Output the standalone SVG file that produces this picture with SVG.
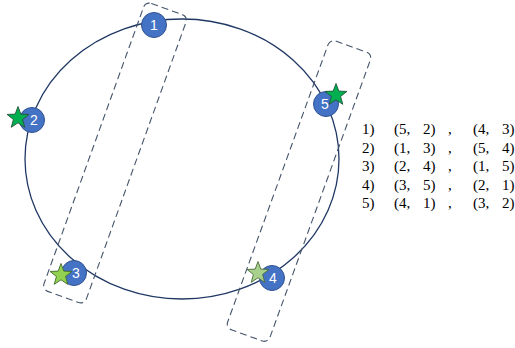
<svg xmlns="http://www.w3.org/2000/svg" xmlns:xlink="http://www.w3.org/1999/xlink" width="515" height="348" viewBox="0 0 515 348">
<style>
.ring{fill:none;stroke:#203864;stroke-width:1.3}
.pair{fill:none;stroke:#44546A;stroke-width:1.1;stroke-dasharray:7 4}
.node circle{fill:#4472C4;stroke:#2F528F;stroke-width:1}
.node text{fill:#fff;font-family:"Liberation Sans","Open Sans",sans-serif;font-size:14px;text-anchor:middle}
.star-dark{fill:#00B050;stroke:#26543A;stroke-width:0.9}
.star-light{fill:#92D050;stroke:#3F6A2A;stroke-width:0.9}
.star-pale{fill:#A9D18E;stroke:#4A6B3A;stroke-width:0.9}
.list{font-family:"Liberation Serif","Times New Roman",serif;font-size:15px;fill:#000}
</style>
<defs>
<path id="star" d="M0,-11.5 L2.82,-3.88 L10.94,-3.55 L4.57,1.48 L6.76,9.3 L0,4.8 L-6.76,9.3 L-4.57,1.48 L-10.94,-3.55 L-2.82,-3.88 Z"/>
</defs>
<g id="connectors">
<ellipse class="ring" cx="182" cy="159" rx="157" ry="140"/>
<rect id="pair-1-3" class="pair" x="-22.5" y="-153" width="45" height="306" rx="6" transform="translate(115,153) rotate(19.8)"/>
<rect id="pair-5-4" class="pair" x="-22.5" y="-153.5" width="45" height="307" rx="6" transform="translate(299,191) rotate(19.9)"/>
</g>
<g id="node1" class="node"><circle cx="154" cy="25" r="12.5"/><text x="154" y="30">1</text></g>
<g id="node2" class="node"><circle cx="32" cy="120" r="12.5"/><text x="34" y="125">2</text><use xlink:href="#star" class="star-dark" x="18" y="118"/></g>
<g id="node3" class="node"><circle cx="74" cy="273" r="12.5"/><text x="76" y="278">3</text><use xlink:href="#star" class="star-light" x="61" y="275"/></g>
<g id="node4" class="node"><circle cx="272" cy="278" r="12.5"/><text x="273" y="283">4</text><use xlink:href="#star" class="star-pale" x="258" y="273"/></g>
<g id="node5" class="node"><circle cx="326" cy="104" r="12.5"/><text x="325" y="109">5</text><use xlink:href="#star" class="star-dark" x="336" y="95"/></g>
<g id="list" class="list">
<text y="134"><tspan x="362">1)</tspan><tspan x="394">(5,</tspan><tspan x="423">2)</tspan><tspan x="448">,</tspan><tspan x="473">(4,</tspan><tspan x="502">3)</tspan></text>
<text y="152.5"><tspan x="362">2)</tspan><tspan x="394">(1,</tspan><tspan x="423">3)</tspan><tspan x="448">,</tspan><tspan x="473">(5,</tspan><tspan x="502">4)</tspan></text>
<text y="171"><tspan x="362">3)</tspan><tspan x="394">(2,</tspan><tspan x="423">4)</tspan><tspan x="448">,</tspan><tspan x="473">(1,</tspan><tspan x="502">5)</tspan></text>
<text y="189.5"><tspan x="362">4)</tspan><tspan x="394">(3,</tspan><tspan x="423">5)</tspan><tspan x="448">,</tspan><tspan x="473">(2,</tspan><tspan x="502">1)</tspan></text>
<text y="208"><tspan x="362">5)</tspan><tspan x="394">(4,</tspan><tspan x="423">1)</tspan><tspan x="448">,</tspan><tspan x="473">(3,</tspan><tspan x="502">2)</tspan></text>
</g>
</svg>
